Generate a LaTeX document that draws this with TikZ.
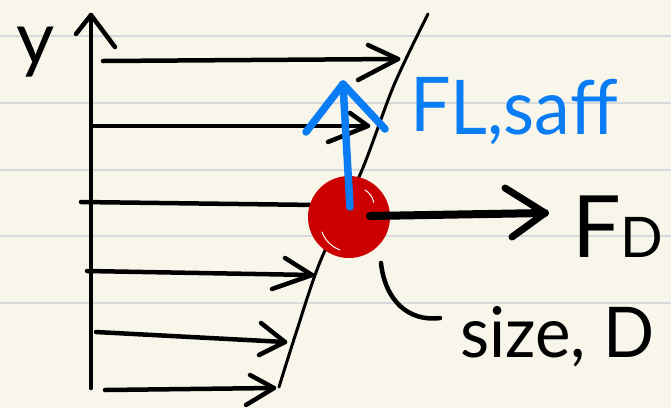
\documentclass[tikz,border=0pt]{standalone}
\usepackage{fontspec}
\setmainfont{Lato}
\definecolor{paper}{HTML}{F8F6EA}
\definecolor{ruling}{HTML}{D8D9DA}
\definecolor{penblue}{HTML}{0A7DF4}
\definecolor{dotred}{HTML}{CC0000}
\begin{document}
\begin{tikzpicture}[x=1pt,y=-1pt,
  inkline/.style={line width=4.5pt, line cap=round, line join=round},
  profileline/.style={line width=3pt, line cap=round, line join=round},
  heavyline/.style={line width=8pt, line cap=round, line join=round},
  bluearrow/.style={penblue, line width=7.5pt, line cap=round, line join=round},
  label/.style={inner sep=0pt, font=\fontsize{56}{60}\selectfont}]
\fill[paper] (0,0) rectangle (671,408);
\useasboundingbox (0,0) rectangle (671,408);
\foreach \yy in {36,103,170,236,303}
  \draw[ruling, line width=1.5pt] (0,\yy) -- (671,\yy);

% y axis
\coordinate (axbot) at (91,388);
\coordinate (axtop) at (91,15);
\coordinate (axL) at (76,34);
\coordinate (axR) at (115,47);
\draw[inkline] (axbot) -- (axtop);
\draw[inkline] (axL) -- (axtop) -- (axR);
\node[label, anchor=base, font=\fontsize{74}{76}\selectfont] (ylab) at (36,64) {y};

% velocity profile line
\draw[profileline] plot[smooth] coordinates {(428,14) (394,85) (362,170) (320,262) (296,333) (279,387)};

% velocity arrows
\coordinate (s1) at (103,61);  \coordinate (t1) at (398,59);
\coordinate (u1) at (368,45);  \coordinate (l1) at (358,80);
\coordinate (s2) at (92,126);  \coordinate (t2) at (368,126);
\coordinate (u2) at (350,113); \coordinate (l2) at (328,142);
\coordinate (s3) at (81,202);  \coordinate (t3) at (318,205);
\coordinate (s4) at (87,271);  \coordinate (t4) at (312,275);
\coordinate (u4) at (285,258); \coordinate (l4) at (272,289);
\coordinate (s5) at (96,332);  \coordinate (t5) at (285,342);
\coordinate (u5) at (261,323); \coordinate (l5) at (259,355);
\coordinate (s6) at (105,390); \coordinate (t6) at (274,388);
\coordinate (u6) at (250,375); \coordinate (l6) at (246,405);
\draw[inkline] (s1) -- (t1); \draw[inkline] (u1) -- (t1) -- (l1);
\draw[inkline] (s2) -- (t2); \draw[inkline] (u2) -- (t2) -- (l2);
\draw[inkline] (s3) -- (t3);
\draw[inkline] (s4) -- (t4); \draw[inkline] (u4) -- (t4) -- (l4);
\draw[inkline] (s5) -- (t5); \draw[inkline] (u5) -- (t5) -- (l5);
\draw[inkline] (s6) -- (t6); \draw[inkline] (u6) -- (t6) -- (l6);

% particle
\node[circle, fill=dotred, minimum width=82pt, minimum height=82pt, inner sep=0pt] (particle) at (349,217) {};
\draw[white, line width=1pt, line cap=round] (322,232) arc[start angle=200, end angle=250, radius=30pt];
\draw[white, line width=1pt, line cap=round] (365,190) arc[start angle=60, end angle=10, radius=18pt];

% lift force (blue)
\coordinate (bstart) at (350,207);
\coordinate (btip) at (343,84);
\coordinate (bL) at (306,132);
\coordinate (bR) at (385,129);
\draw[bluearrow] (bstart) -- (btip);
\draw[bluearrow] (bL) -- (btip) -- (bR);
\node[label, penblue, anchor=base west, font=\fontsize{64}{66}\selectfont] (liftlab) at (410,131) {\scalebox{1.12}[1.18]{F\raisebox{-3pt}{L,saff}}};

% drag force (black)
\coordinate (dstart) at (370,216);
\coordinate (dtip) at (545,213);
\coordinate (dU) at (505,188);
\coordinate (dL) at (512,237);
\draw[heavyline] (dstart) -- (dtip);
\draw[inkline, line width=7pt] (dU) -- (dtip) -- (dL);
\node[label, anchor=base west] (draglab) at (572,257) {\fontsize{86}{88}\selectfont F\fontsize{56}{58}\selectfont D};

% size label
\coordinate (cstart) at (381,263);
\coordinate (cend) at (440,318);
\draw[inkline] (cstart) .. controls (385,300) and (408,322) .. (cend);
\node[label, anchor=base west] (sizelab) at (460,357) {\scalebox{1.2}[1.25]{size, D}};
\end{tikzpicture}
\end{document}
